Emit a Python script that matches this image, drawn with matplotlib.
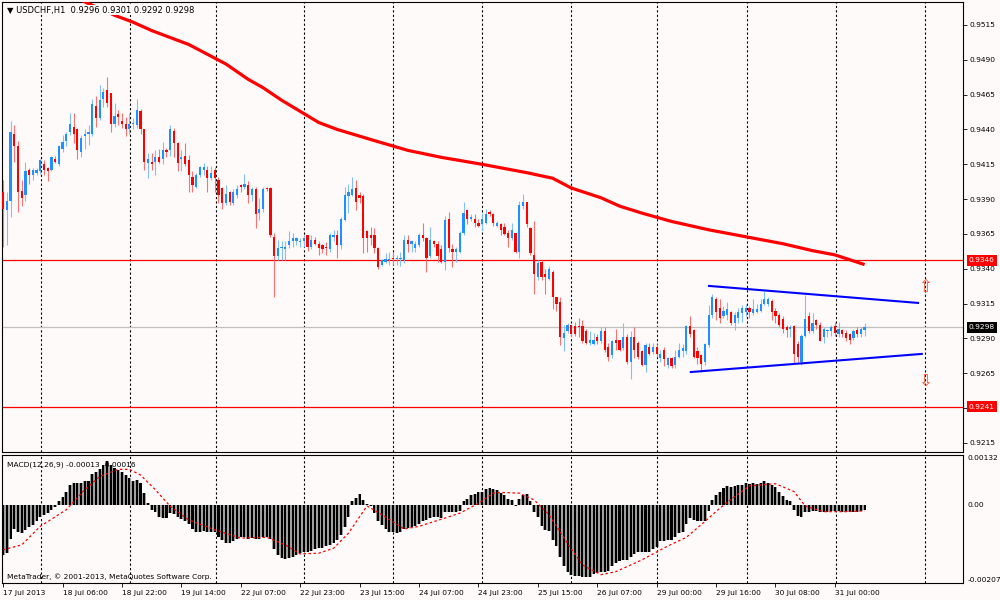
import matplotlib
matplotlib.use("Agg")
import matplotlib.pyplot as plt
import matplotlib.transforms as mtransforms
import numpy as np

# USDCHF H1 bars, prices in pips (x 0.0001)
opens = [9395, 9382, 9389, 9437, 9428, 9396, 9393, 9411, 9407, 9409, 9410, 9415, 9412, 9411, 9419, 9415,
         9426, 9432, 9438, 9442, 9440, 9424, 9435, 9437, 9437, 9457, 9448, 9462, 9468, 9466, 9444, 9451,
         9446, 9444, 9440, 9444, 9443, 9453, 9440, 9416, 9417, 9417, 9420, 9419, 9425, 9425, 9439, 9430,
         9419, 9421, 9418, 9406, 9399, 9407, 9411, 9411, 9405, 9411, 9404, 9398, 9387, 9395, 9387, 9393,
         9400, 9399, 9400, 9393, 9397, 9380, 9383, 9398, 9398, 9363, 9349, 9355, 9354, 9357, 9360, 9360,
         9359, 9360, 9364, 9356, 9361, 9358, 9357, 9356, 9354, 9363, 9364, 9357, 9375, 9392, 9393, 9398,
         9393, 9392, 9367, 9364, 9364, 9355, 9343, 9345, 9346, 9348, 9347, 9347, 9346, 9361, 9358, 9355,
         9357, 9364, 9362, 9349, 9360, 9358, 9354, 9345, 9376, 9354, 9352, 9352, 9366, 9382, 9376, 9376,
         9373, 9372, 9373, 9381, 9379, 9371, 9372, 9370, 9366, 9362, 9366, 9352, 9385, 9388, 9369, 9350,
         9334, 9345, 9336, 9333, 9338, 9320, 9316, 9290, 9295, 9300, 9299, 9299, 9299, 9295, 9287, 9286,
         9291, 9288, 9295, 9284, 9278, 9289, 9289, 9283, 9291, 9273, 9291, 9287, 9281, 9271, 9284, 9280,
         9284, 9276, 9282, 9271, 9276, 9271, 9277, 9281, 9281, 9299, 9296, 9281, 9278, 9273, 9285, 9307,
         9318, 9312, 9306, 9307, 9309, 9301, 9305, 9308, 9309, 9312, 9308, 9309, 9310, 9315, 9315, 9317,
         9310, 9307, 9304, 9298, 9297, 9299, 9286, 9273, 9292, 9306, 9295, 9303, 9300, 9291, 9295, 9295,
         9299, 9293, 9296, 9294, 9293, 9290, 9296, 9293, 9296]
highs = [9404, 9395, 9446, 9443, 9432, 9404, 9417, 9412, 9412, 9412, 9419, 9418, 9413, 9421, 9421, 9429,
         9436, 9438, 9452, 9452, 9441, 9436, 9440, 9443, 9462, 9464, 9472, 9470, 9478, 9466, 9459, 9454,
         9452, 9449, 9452, 9448, 9462, 9455, 9440, 9423, 9423, 9425, 9426, 9431, 9427, 9443, 9441, 9431,
         9425, 9430, 9422, 9410, 9409, 9414, 9416, 9414, 9414, 9413, 9406, 9399, 9400, 9396, 9397, 9400,
         9401, 9408, 9403, 9399, 9399, 9391, 9399, 9399, 9399, 9366, 9361, 9360, 9360, 9367, 9366, 9363,
         9362, 9364, 9364, 9364, 9363, 9360, 9358, 9359, 9366, 9368, 9368, 9377, 9399, 9401, 9406, 9404,
         9395, 9394, 9368, 9370, 9369, 9356, 9347, 9351, 9352, 9352, 9350, 9352, 9364, 9364, 9361, 9360,
         9366, 9373, 9363, 9370, 9361, 9360, 9357, 9378, 9381, 9358, 9356, 9367, 9388, 9383, 9379, 9379,
         9376, 9380, 9383, 9382, 9380, 9374, 9373, 9373, 9368, 9373, 9366, 9389, 9394, 9388, 9370, 9374,
         9346, 9346, 9340, 9342, 9339, 9320, 9320, 9300, 9301, 9300, 9302, 9305, 9303, 9297, 9295, 9294,
         9293, 9298, 9298, 9287, 9289, 9297, 9289, 9301, 9293, 9295, 9298, 9288, 9282, 9287, 9287, 9287,
         9286, 9282, 9284, 9277, 9277, 9282, 9287, 9286, 9300, 9306, 9297, 9284, 9279, 9287, 9314, 9322,
         9320, 9318, 9313, 9316, 9310, 9309, 9312, 9314, 9315, 9313, 9318, 9315, 9318, 9324, 9320, 9318,
         9312, 9308, 9306, 9300, 9300, 9300, 9288, 9293, 9321, 9309, 9308, 9304, 9302, 9298, 9297, 9300,
         9302, 9302, 9297, 9296, 9294, 9297, 9298, 9298, 9301]
lows = [9356, 9357, 9377, 9417, 9381, 9385, 9389, 9401, 9404, 9407, 9408, 9407, 9403, 9410, 9416, 9414,
        9424, 9428, 9436, 9430, 9419, 9420, 9426, 9429, 9435, 9442, 9447, 9456, 9456, 9438, 9442, 9443,
        9441, 9435, 9437, 9440, 9441, 9437, 9411, 9405, 9411, 9407, 9416, 9415, 9420, 9421, 9420, 9410,
        9410, 9414, 9395, 9395, 9398, 9406, 9407, 9395, 9404, 9395, 9387, 9383, 9386, 9386, 9386, 9391,
        9395, 9397, 9387, 9389, 9369, 9375, 9381, 9396, 9363, 9320, 9346, 9346, 9346, 9355, 9356, 9357,
        9356, 9356, 9353, 9354, 9357, 9350, 9351, 9350, 9352, 9360, 9348, 9354, 9374, 9380, 9392, 9382,
        9387, 9351, 9352, 9357, 9351, 9340, 9342, 9344, 9343, 9343, 9343, 9342, 9344, 9352, 9352, 9352,
        9356, 9360, 9338, 9348, 9356, 9345, 9344, 9339, 9352, 9341, 9345, 9351, 9364, 9372, 9374, 9370,
        9370, 9368, 9372, 9378, 9371, 9370, 9364, 9364, 9356, 9361, 9351, 9348, 9383, 9370, 9350, 9322,
        9332, 9332, 9322, 9332, 9311, 9310, 9285, 9281, 9294, 9291, 9292, 9291, 9287, 9286, 9285, 9285,
        9286, 9287, 9280, 9274, 9276, 9282, 9281, 9282, 9272, 9261, 9276, 9275, 9270, 9266, 9278, 9279,
        9277, 9273, 9270, 9269, 9269, 9269, 9276, 9277, 9279, 9291, 9276, 9272, 9266, 9271, 9284, 9305,
        9303, 9301, 9305, 9303, 9300, 9296, 9301, 9302, 9306, 9305, 9307, 9308, 9309, 9314, 9313, 9303,
        9301, 9298, 9294, 9291, 9291, 9272, 9273, 9271, 9291, 9294, 9294, 9297, 9288, 9287, 9291, 9292,
        9292, 9291, 9291, 9288, 9286, 9289, 9291, 9291, 9292]
closes = [9383, 9389, 9438, 9428, 9395, 9391, 9410, 9407, 9411, 9411, 9418, 9411, 9410, 9420, 9417, 9428,
          9431, 9437, 9444, 9437, 9425, 9434, 9437, 9438, 9458, 9448, 9461, 9467, 9459, 9444, 9450, 9449,
          9444, 9440, 9444, 9445, 9454, 9440, 9417, 9419, 9415, 9420, 9417, 9425, 9424, 9440, 9430, 9416,
          9420, 9415, 9407, 9400, 9407, 9413, 9413, 9405, 9409, 9405, 9393, 9387, 9394, 9388, 9395, 9397,
          9399, 9401, 9393, 9397, 9379, 9383, 9397, 9397, 9364, 9349, 9355, 9356, 9356, 9360, 9362, 9362,
          9360, 9362, 9356, 9361, 9358, 9355, 9354, 9355, 9364, 9364, 9357, 9376, 9393, 9395, 9397, 9388,
          9391, 9362, 9362, 9362, 9355, 9341, 9346, 9347, 9347, 9347, 9348, 9348, 9361, 9358, 9360, 9358,
          9364, 9362, 9348, 9361, 9358, 9349, 9345, 9375, 9355, 9352, 9354, 9366, 9380, 9376, 9377, 9373,
          9371, 9376, 9379, 9379, 9373, 9373, 9368, 9365, 9362, 9368, 9352, 9386, 9388, 9372, 9351, 9336,
          9344, 9334, 9334, 9340, 9320, 9315, 9291, 9294, 9300, 9293, 9293, 9298, 9288, 9287, 9289, 9289,
          9288, 9295, 9282, 9277, 9288, 9287, 9282, 9291, 9273, 9291, 9282, 9277, 9271, 9285, 9279, 9284,
          9279, 9279, 9275, 9276, 9270, 9277, 9282, 9283, 9299, 9293, 9277, 9276, 9272, 9286, 9307, 9320,
          9309, 9305, 9310, 9311, 9301, 9307, 9309, 9312, 9312, 9309, 9311, 9311, 9315, 9318, 9318, 9309,
          9306, 9300, 9297, 9296, 9298, 9279, 9277, 9292, 9304, 9295, 9301, 9300, 9288, 9297, 9296, 9298,
          9294, 9297, 9293, 9290, 9289, 9295, 9293, 9297, 9298]

# red moving average, read at a few bars (pips)
ma_bar = [15, 20, 25, 30, 35, 40, 45, 50, 55, 60, 66, 70, 75, 80, 85, 90, 95, 100, 109, 118, 129,
          141, 148, 153, 161, 166, 172, 180, 190, 200, 210, 218, 224, 232]
ma_val = [9540, 9534, 9528, 9522, 9517, 9511, 9506, 9501, 9494, 9487, 9476, 9470, 9461, 9453, 9445,
          9440, 9436, 9432, 9425, 9420, 9415, 9409, 9405, 9398, 9391, 9385, 9380, 9374, 9368, 9363,
          9358, 9353, 9350, 9343]

# MACD(12,26,9) main histogram, x 1e-5
macd_main = [-132, -128, -91, -64, -71, -75, -66, -59, -53, -42, -31, -26, -22, -13, -6, 9,
             22, 35, 53, 59, 57, 59, 62, 64, 82, 86, 94, 106, 115, 106, 97, 91,
             86, 79, 71, 64, 66, 57, 31, 6, -13, -20, -31, -35, -35, -22, -24, -31,
             -38, -42, -50, -64, -71, -71, -68, -71, -71, -73, -86, -94, -100, -100, -97, -91,
             -86, -86, -91, -88, -91, -91, -86, -84, -91, -117, -132, -141, -144, -141, -137, -132,
             -128, -126, -124, -121, -117, -115, -115, -110, -106, -100, -93, -79, -59, -31, 11, 18,
             29, 13, 3, -3, -22, -44, -53, -64, -71, -73, -75, -73, -64, -62, -59, -56,
             -50, -42, -40, -35, -33, -33, -35, -20, -18, -20, -20, -15, 9, 15, 26, 29,
             33, 35, 42, 44, 42, 38, 31, 26, 15, 13, -3, 15, 26, 29, 11, -18,
             -33, -56, -66, -68, -93, -110, -139, -163, -177, -185, -188, -188, -190, -192, -190, -183,
             -181, -177, -177, -174, -163, -155, -150, -146, -146, -137, -130, -126, -124, -126, -124, -117,
             -112, -97, -97, -94, -93, -86, -75, -71, -50, -35, -40, -42, -44, -42, -15, 13,
             26, 35, 44, 49, 47, 49, 53, 53, 57, 56, 57, 56, 59, 62, 59, 53,
             47, 35, 24, 13, 9, -13, -29, -31, -20, -20, -15, -15, -20, -20, -18, -15,
             -15, -15, -18, -18, -20, -18, -18, -15, -13]
# signal line, read at a few bars, x 1e-5
signal_bar = [0, 5, 10, 17, 22, 26, 31, 34, 37, 41, 45, 50, 57, 64, 71, 76, 80, 85, 89, 93, 98, 102,
              108, 112, 119, 123, 128, 132, 134, 139, 143, 147, 152, 156, 161, 165, 172, 179, 184, 189,
              193, 197, 201, 208, 213, 216, 221, 227, 232]
signal_val = [-119, -106, -57, -13, 40, 75, 94, 94, 79, 40, -4, -40, -66, -88, -86, -106, -130, -128,
              -115, -75, -3, -26, -64, -57, -35, -22, 4, 31, 33, 31, 13, -26, -102, -159, -185, -177,
              -146, -109, -86, -44, -9, 22, 50, 56, 35, -3, -18, -18, -16]

# triangle trend lines (bar, pips) and breakout arrows
upper_line = ([190.1, 246.4], [9327.7, 9315.5])
lower_line = ([185.2, 247.4], [9265.9, 9278.9])
arrow_bar = 248.2
arrow_up, arrow_down = 9327, 9260
level_hi, level_lo, last_price = 0.9346, 0.9241, 0.9298

date_bars = [0, 16, 32, 48, 64, 80, 96, 112, 128, 144, 160, 176, 192, 208, 224]
date_labels = ["17 Jul 2013", "18 Jul 06:00", "18 Jul 22:00", "19 Jul 14:00", "22 Jul 07:00",
               "22 Jul 23:00", "23 Jul 15:00", "24 Jul 07:00", "24 Jul 23:00", "25 Jul 15:00",
               "26 Jul 07:00", "29 Jul 00:00", "29 Jul 16:00", "30 Jul 08:00", "31 Jul 00:00"]
grid_bars = [10.1, 34.1, 57.4, 81.0, 105.0, 129.0, 152.9, 176.1, 200.3, 224.3, 248.3]
price_ticks = [0.9515, 0.9490, 0.9465, 0.9440, 0.9415, 0.9390, 0.9365, 0.9340, 0.9315, 0.9290,
               0.9265, 0.9240, 0.9215]

BG = "#FFFAFA"
BULL, BEAR = "#1E90FF", "#FF0000"
FS = 5.4

o = np.array(opens) / 1e4
h = np.array(highs) / 1e4
l = np.array(lows) / 1e4
c = np.array(closes) / 1e4
idx = np.arange(len(o))
up = c >= o

fig = plt.figure(figsize=(10, 6), dpi=100, facecolor=BG)
ax = fig.add_axes([0.002, 1 - 452 / 600, 0.961, 450 / 600], facecolor=BG)
ax2 = fig.add_axes([0.002, 1 - 583 / 600, 0.961, 128 / 600], facecolor=BG, sharex=ax)

for a in (ax, ax2):
    for g in grid_bars:
        a.axvline(g, color="black", lw=0.8, linestyle=(0, (2, 2)), zorder=1)
    for s in a.spines.values():
        s.set_linewidth(0.8)

# candles
wick_cols = np.where(up, "#7FBFFF", "#FF7070")
body_cols = np.where(up, BULL, BEAR)
ax.vlines(idx, l, h, colors=wick_cols, lw=0.8, zorder=3)
body_h = np.maximum(np.abs(c - o), 0.00007)
ax.bar(idx, body_h, bottom=np.minimum(o, c), width=0.6, color=body_cols, linewidth=0, zorder=4)

ax.plot(ma_bar, np.array(ma_val) / 1e4, color="#FF0000", lw=2.3, zorder=5, solid_capstyle="butt")
ax.plot(upper_line[0], np.array(upper_line[1]) / 1e4, color="#0000FF", lw=1.5, zorder=5)
ax.plot(lower_line[0], np.array(lower_line[1]) / 1e4, color="#0000FF", lw=1.5, zorder=5)

ax.axhline(level_hi, color="#FF0000", lw=0.9, zorder=2)
ax.axhline(level_lo, color="#FF0000", lw=0.9, zorder=2)
ax.axhline(last_price, color="#C0C0C0", lw=0.9, zorder=2)

ax.text(arrow_bar, arrow_up / 1e4, "\u21e7", color="#FF5030", fontsize=12, ha="center", va="center", zorder=6)
ax.text(arrow_bar, arrow_down / 1e4, "\u21e9", color="#FF5030", fontsize=12, ha="center", va="center", zorder=6)

ax.set_xlim(-0.3, 258.5)
ax.set_ylim(0.92085, 0.95315)
ax.yaxis.tick_right()
ax.set_yticks(price_ticks)
ax.set_yticklabels(["%.4f" % p for p in price_ticks])
ax.tick_params(axis="y", direction="out", length=3, width=0.6, labelsize=FS, pad=2)
ax.tick_params(axis="x", bottom=False, labelbottom=False)

trans = mtransforms.blended_transform_factory(ax.transAxes, ax.transData)
for val, fc in [(level_hi, "#FF0000"), (last_price, "black"), (level_lo, "#FF0000")]:
    ax.text(1.006, val, "%.4f" % val, transform=trans, color="white", fontsize=FS, ha="left",
            va="center", zorder=10, clip_on=False,
            bbox=dict(boxstyle="square,pad=0.3", fc=fc, ec="none"))

ax.text(0.005, 0.982, "\u25bc USDCHF,H1  0.9296 0.9301 0.9292 0.9298", transform=ax.transAxes,
        fontsize=6, ha="left", va="center", zorder=8,
        bbox=dict(boxstyle="square,pad=0.1", fc=BG, ec="none"))

# MACD panel
mv = np.array(macd_main) / 1e5
ax2.bar(idx, mv, width=1.0, color="#A0A0A0", linewidth=0, zorder=2)
ax2.bar(idx, mv, width=0.55, color="black", linewidth=0, zorder=3)
ax2.plot(signal_bar, np.array(signal_val) / 1e5, color="#FF0000", lw=0.9, linestyle=(0, (2, 2)), zorder=4)
ax2.set_ylim(-0.00207, 0.00132)
ax2.yaxis.tick_right()
ax2.set_yticks([0.00132, 0.0, -0.00207])
ax2.set_yticklabels(["0.00132", "0.00", "-0.00207"])
ylabs = ax2.get_yticklabels()
ylabs[0].set_va("top")
ylabs[2].set_va("bottom")
ax2.tick_params(axis="y", direction="out", length=0, labelsize=FS, pad=3)

ax2.set_xticks(date_bars)
ax2.set_xticklabels(date_labels, ha="left")
ax2.tick_params(axis="x", direction="out", length=3, width=0.6, labelsize=FS, pad=2)

ax2.text(0.005, 0.92, "MACD(12,26,9) -0.00013 -0.00016", transform=ax2.transAxes, fontsize=FS,
         ha="left", va="center", zorder=8)
ax2.text(0.005, 0.05, "MetaTrader, \u00a9 2001-2013, MetaQuotes Software Corp.", transform=ax2.transAxes,
         fontsize=FS, ha="left", va="center", zorder=8)

fig.savefig("out.png", dpi=100, facecolor=BG)
